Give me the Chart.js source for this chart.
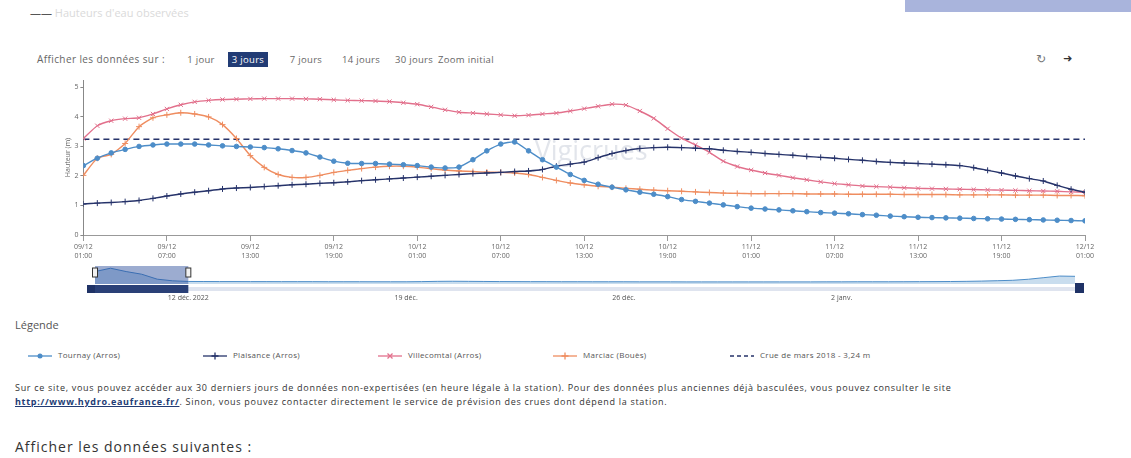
<!DOCTYPE html>
<html>
<head>
<meta charset="utf-8">
<script src="https://cdn.jsdelivr.net/npm/chart.js@4.4.0/dist/chart.umd.min.js"></script>
<style>
body { margin: 0; width: 1131px; height: 458px; overflow: hidden; background: #fff; position: relative; font-family: "Open Sans", sans-serif; color: #444; }
.abs { position: absolute; }
.btn { position: absolute; top: 52px; height: 15px; line-height: 15px; font-size: 9.5px; letter-spacing: .3px; color: #666; text-align: center; }
.btn.on { background: #223c75; color: #fff; }
.leg { position: absolute; top: 349px; font-size: 8px; letter-spacing: .3px; color: #555; white-space: nowrap; }
.leg svg { vertical-align: middle; margin-right: 6px; }
</style>
</head>
<body>
<div class="abs" style="left:905px;top:0;width:226px;height:12px;background:#a9b4dc"></div>
<div class="abs" style="left:30px;top:5px;font-size:11px;color:#555">&mdash;&mdash; <span style="color:#dadada">Hauteurs d'eau observées</span></div>

<div class="abs" style="left:37px;top:52px;line-height:15px;font-size:10px;letter-spacing:.4px;color:#666">Afficher les données sur :</div>
<div class="btn" style="left:182px;width:38px">1 jour</div>
<div class="btn on" style="left:228px;width:40px">3 jours</div>
<div class="btn" style="left:285px;width:42px">7 jours</div>
<div class="btn" style="left:336px;width:50px">14 jours</div>
<div class="btn" style="left:390px;width:48px">30 jours</div>
<div class="btn" style="left:438px;width:56px">Zoom initial</div>
<div class="abs" style="left:1036px;top:52px;font-size:12px;color:#777;font-family:'DejaVu Sans'">&#8635;</div>
<div class="abs" style="left:1063px;top:52px;font-size:11px;color:#333;font-family:'DejaVu Sans'">&#10140;</div>

<div class="abs" style="left:0;top:70px;width:1100px;height:195px"><canvas id="mainChart"></canvas></div>
<div class="abs" style="left:0;top:258px;width:1131px;height:48px"><canvas id="navChart"></canvas></div>

<div class="abs" style="left:15px;top:317px;font-size:11px;color:#555">Légende</div>
<div id="legend"></div>

<div class="abs" style="left:15px;top:381px;width:1100px;font-size:9px;letter-spacing:.7px;line-height:14px;color:#333">
Sur ce site, vous pouvez accéder aux 30 derniers jours de données non-expertisées (en heure légale à la station). Pour des données plus anciennes déjà basculées, vous pouvez consulter le site<br>
<a style="color:#223c75;font-weight:bold;text-decoration:underline">http://www.hydro.eaufrance.fr/</a>. Sinon, vous pouvez contacter directement le service de prévision des crues dont dépend la station.
</div>
<div class="abs" style="left:15px;top:437px;font-size:14px;letter-spacing:1px;color:#333">Afficher les données suivantes :</div>

<script>
// heures depuis le 09/12 01:00
const hours = Array.from({length: 73}, (_, i) => i);
const xTickHours = [0, 6, 12, 18, 24, 30, 36, 42, 48, 54, 60, 66, 72];
const xTickLabels = ['09/12 01:00', '09/12 07:00', '09/12 13:00', '09/12 19:00', '10/12 01:00', '10/12 07:00',
    '10/12 13:00', '10/12 19:00', '11/12 01:00', '11/12 07:00', '11/12 13:00', '11/12 19:00', '12/12 01:00'];
const yTicks = [0, 1, 2, 3, 4, 5];

const seriesNames = ['Tournay (Arros)', 'Plaisance (Arros)', 'Villecomtal (Arros)', 'Marciac (Bouès)'];
const crueLabel = 'Crue de mars 2018 - 3,24 m';
const crueRef = 3.24;

const tournay = [2.35, 2.6, 2.78, 2.9, 3.0, 3.05, 3.08, 3.08, 3.08, 3.05, 3.02, 3.0, 2.98, 2.96, 2.92, 2.86, 2.78, 2.64, 2.5, 2.43,
    2.42, 2.42, 2.4, 2.38, 2.35, 2.3, 2.27, 2.3, 2.55, 2.85, 3.08, 3.15, 2.85, 2.55, 2.3, 2.05, 1.85, 1.72, 1.62, 1.53,
    1.45, 1.38, 1.3, 1.2, 1.14, 1.08, 1.02, 0.96, 0.91, 0.88, 0.85, 0.82, 0.79, 0.76, 0.74, 0.72, 0.69, 0.67, 0.64, 0.62,
    0.6, 0.59, 0.58, 0.57, 0.56, 0.55, 0.54, 0.53, 0.52, 0.51, 0.5, 0.49, 0.48];
const plaisance = [1.05, 1.08, 1.1, 1.13, 1.17, 1.24, 1.32, 1.39, 1.45, 1.5, 1.56, 1.59, 1.61, 1.64, 1.67, 1.7, 1.72, 1.75, 1.77, 1.8,
    1.84, 1.87, 1.9, 1.93, 1.96, 1.99, 2.02, 2.05, 2.08, 2.1, 2.12, 2.15, 2.17, 2.22, 2.33, 2.4, 2.47, 2.62, 2.76, 2.86,
    2.93, 2.96, 2.97, 2.96, 2.94, 2.92, 2.87, 2.83, 2.8, 2.76, 2.73, 2.7, 2.66, 2.63, 2.6, 2.56, 2.53, 2.49, 2.46, 2.44,
    2.42, 2.4, 2.38, 2.35, 2.28, 2.19, 2.1, 2.0, 1.91, 1.83, 1.68, 1.55, 1.45];
const villecomtal = [3.27, 3.7, 3.87, 3.94, 3.97, 4.1, 4.27, 4.41, 4.51, 4.56, 4.59, 4.6, 4.61, 4.62, 4.62, 4.62, 4.61, 4.6, 4.58, 4.56,
    4.55, 4.54, 4.52, 4.48, 4.43, 4.34, 4.24, 4.16, 4.13, 4.1, 4.07, 4.04, 4.06, 4.1, 4.13, 4.2, 4.28, 4.36, 4.43, 4.4,
    4.2, 3.95, 3.6, 3.28, 3.05, 2.8, 2.5, 2.32, 2.2, 2.1, 2.02, 1.94, 1.87, 1.8, 1.74, 1.7, 1.66, 1.64, 1.62, 1.6,
    1.58, 1.57, 1.56, 1.55, 1.54, 1.53, 1.52, 1.51, 1.5, 1.49, 1.48, 1.46, 1.45];
const marciac = [2.02, 2.6, 2.73, 3.1, 3.67, 3.97, 4.07, 4.14, 4.1, 4.0, 3.74, 3.27, 2.69, 2.29, 2.05, 1.95, 1.95, 2.02, 2.12, 2.19,
    2.25, 2.3, 2.33, 2.33, 2.3, 2.25, 2.2, 2.17, 2.15, 2.13, 2.12, 2.1, 2.05, 1.95, 1.85, 1.76, 1.7, 1.65, 1.62, 1.58,
    1.55, 1.52, 1.5, 1.48, 1.46, 1.44, 1.42, 1.41, 1.4, 1.4, 1.4, 1.4, 1.39, 1.39, 1.39, 1.38, 1.38, 1.38, 1.38, 1.37,
    1.37, 1.37, 1.37, 1.36, 1.36, 1.36, 1.36, 1.35, 1.35, 1.35, 1.34, 1.34, 1.33];

// navigateur : 32 jours, un point par demi-journee (premiere serie)
const navDays = Array.from({length: 65}, (_, i) => i / 2);
const navValues = [2.35, 2.98, 2.35, 1.85, 0.91, 0.6, 0.48, 0.47, 0.46, 0.46, 0.45, 0.45, 0.44, 0.44, 0.44, 0.43,
    0.43, 0.43, 0.42, 0.42, 0.42, 0.45, 0.5, 0.52, 0.5, 0.48, 0.46, 0.45, 0.44, 0.44, 0.43, 0.43,
    0.42, 0.42, 0.42, 0.41, 0.41, 0.41, 0.4, 0.4, 0.4, 0.4, 0.4, 0.4, 0.4, 0.4, 0.4, 0.41,
    0.41, 0.42, 0.42, 0.42, 0.43, 0.44, 0.45, 0.47, 0.5, 0.55, 0.62, 0.7, 0.9, 1.2, 1.5, 1.45, 1.3];
const navTickDays = [3, 10, 17, 24];
const navTickLabels = ['12 déc. 2022', '19 déc.', '26 déc.', '2 janv.'];
const navSelection = [0, 3];

const colors = ['#4d8dc8', '#26336a', '#e2708c', '#ef8d60'];
const styles = ['circle', 'cross', 'crossRot', 'cross'];
const crueColor = '#26336a';

function toXY(values) {
    return values.map((v, i) => ({x: hours[i], y: v}));
}

Chart.defaults.font.family = '"Open Sans", sans-serif';
Chart.defaults.animation = false;

const watermark = {
    id: 'watermark',
    beforeDatasetsDraw(chart) {
        const c = chart.ctx;
        c.save();
        c.font = '27px "Open Sans"';
        c.fillStyle = 'rgba(160,170,190,0.3)';
        c.textAlign = 'center';
        c.textBaseline = 'middle';
        c.fillText('Vigicrues', chart.scales.x.getPixelForValue(36.5), chart.scales.y.getPixelForValue(2.8));
        c.restore();
    }
};

const mainData = [tournay, plaisance, villecomtal, marciac];
const datasets = mainData.map((vals, i) => ({
    label: seriesNames[i],
    data: toXY(vals),
    borderColor: colors[i],
    backgroundColor: colors[i],
    pointStyle: styles[i],
    pointRadius: i == 0 ? 2.3 : 3,
    pointBorderWidth: 1,
    borderWidth: 1.4,
    tension: 0.2
}));
datasets.push({
    label: crueLabel,
    data: [{x: hours[0], y: crueRef}, {x: hours[hours.length - 1], y: crueRef}],
    borderColor: crueColor,
    borderDash: [6, 4],
    borderWidth: 1.5,
    pointRadius: 0
});

new Chart(document.getElementById('mainChart'), {
    type: 'line',
    data: {datasets: datasets},
    options: {
        responsive: true,
        maintainAspectRatio: false,
        layout: {padding: {top: 10, right: 15, left: 64, bottom: 0}},
        plugins: {legend: {display: false}, tooltip: {enabled: false}},
        scales: {
            x: {
                type: 'linear',
                min: 0,
                max: 72,
                afterBuildTicks: s => { s.ticks = xTickHours.map(v => ({value: v})); },
                afterFit: s => { s.height = 30; },
                ticks: {
                    color: '#666',
                    font: {size: 7},
                    padding: 2,
                    maxRotation: 0,
                    callback: (v, i) => xTickLabels[i].split(' ')
                },
                grid: {drawOnChartArea: false, drawTicks: true, tickLength: 6, color: '#999'},
                border: {color: '#999'}
            },
            y: {
                min: 0,
                max: 5.25,
                afterBuildTicks: s => { s.ticks = yTicks.map(v => ({value: v})); },
                ticks: {color: '#666', font: {size: 7}, padding: 2},
                grid: {drawOnChartArea: false, drawTicks: true, tickLength: 3, color: '#888'},
                border: {color: '#888'},
                title: {display: true, text: 'Hauteur (m)', color: '#666', font: {size: 7}, padding: 0}
            }
        }
    },
    plugins: [watermark]
});

const navOverlay = {
    id: 'navOverlay',
    afterDraw(chart) {
        const c = chart.ctx;
        const a = chart.chartArea;
        const xs = chart.scales.x.getPixelForValue(navSelection[0]);
        const xe = chart.scales.x.getPixelForValue(navSelection[1]);
        c.save();
        c.fillStyle = 'rgba(35,70,150,0.45)';
        c.fillRect(xs, a.top, xe - xs, a.bottom - a.top);
        // poignees
        c.fillStyle = '#f2f2f2';
        c.strokeStyle = '#333';
        c.lineWidth = 1;
        [xs, xe].forEach(px => {
            c.fillRect(px - 2.5, a.top + 2, 5, 9);
            c.strokeRect(px - 2.5, a.top + 2, 5, 9);
        });
        // barre de defilement
        const sy = a.bottom + 1;
        c.fillStyle = '#dfe4ef';
        c.fillRect(a.left - 8, sy + 2, a.right - a.left + 16, 4);
        c.fillStyle = '#2a4077';
        c.fillRect(xs, sy, xe - xs, 8);
        c.fillStyle = '#1f3266';
        c.fillRect(a.left - 8, sy, 8, 8);
        c.fillRect(a.right, sy - 2, 9, 10);
        c.restore();
    }
};

new Chart(document.getElementById('navChart'), {
    type: 'line',
    data: {
        datasets: [{
            data: navValues.map((v, i) => ({x: navDays[i], y: v})),
            borderColor: '#4d8dc8',
            backgroundColor: 'rgba(77,141,200,0.3)',
            borderWidth: 1,
            fill: 'origin',
            pointRadius: 0
        }]
    },
    options: {
        responsive: true,
        maintainAspectRatio: false,
        layout: {padding: {top: 8, left: 95, right: 56, bottom: 0}},
        plugins: {legend: {display: false}, tooltip: {enabled: false}},
        scales: {
            x: {
                type: 'linear',
                min: 0,
                max: 31.5,
                afterBuildTicks: s => { s.ticks = navTickDays.map(v => ({value: v})); },
                afterFit: s => { s.height = 22; },
                ticks: {color: '#555', font: {size: 7}, padding: 10, maxRotation: 0,
                    callback: (v, i) => navTickLabels[i]},
                grid: {display: false, drawTicks: false},
                border: {display: false}
            },
            y: {display: false, min: 0, max: 3.4}
        }
    },
    plugins: [navOverlay]
});

// legende
const legendItems = seriesNames.map((n, i) => ({name: n, color: colors[i], style: styles[i]}));
legendItems.push({name: crueLabel, color: crueColor, style: 'dash'});
const legendX = [28, 203, 378, 553, 730];
function marker(style, color) {
    if (style == 'circle') return '<circle cx="12" cy="5" r="2.5" fill="' + color + '"/>';
    if (style == 'cross') return '<path d="M12 1.5V8.5M8.5 5H15.5" stroke="' + color + '" stroke-width="1.3"/>';
    if (style == 'crossRot') return '<path d="M9.5 2.5L14.5 7.5M14.5 2.5L9.5 7.5" stroke="' + color + '" stroke-width="1.3"/>';
    return '';
}
document.getElementById('legend').innerHTML = legendItems.map((it, i) => {
    const line = it.style == 'dash'
        ? '<line x1="0" y1="5" x2="24" y2="5" stroke="' + it.color + '" stroke-width="1.5" stroke-dasharray="4,3"/>'
        : '<line x1="0" y1="5" x2="24" y2="5" stroke="' + it.color + '" stroke-width="1.3"/>' + marker(it.style, it.color);
    return '<div class="leg" style="left:' + legendX[i] + 'px"><svg width="24" height="10">' + line + '</svg>' + it.name + '</div>';
}).join('');
</script>
</body>
</html>
